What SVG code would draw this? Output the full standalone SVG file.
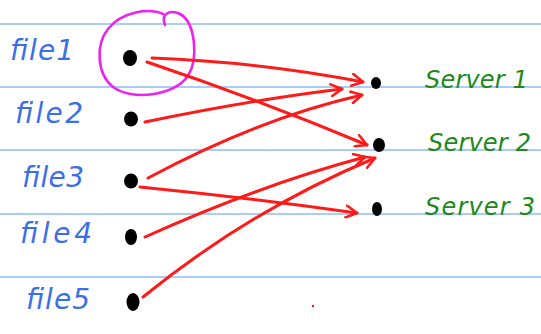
<svg xmlns="http://www.w3.org/2000/svg" width="541" height="334" viewBox="0 0 541 334">
<defs>
<style>
.rule{stroke:#a9cdf6;stroke-width:2}
.flabel{font-family:"DejaVu Sans",sans-serif;font-style:italic;font-size:28px;fill:#3b6fe6}
.slabel{font-family:"DejaVu Sans",sans-serif;font-style:italic;font-size:24px;fill:#1b8a1b}
.dot{fill:#000}
.edge{fill:none;stroke:#ff1a1a;stroke-width:3;stroke-linecap:round;marker-end:url(#ah)}
</style>
<marker id="ah" viewBox="0 0 14 14" refX="12" refY="7" markerWidth="14" markerHeight="14" markerUnits="userSpaceOnUse" orient="auto">
<path d="M1,1 L12,7 L1,13" fill="none" stroke="#ff1a1a" stroke-width="2.6" stroke-linecap="round" stroke-linejoin="round"/>
</marker>
</defs>
<rect width="541" height="334" fill="#fff"/>
<g id="rules">
<line class="rule" x1="0" y1="24" x2="541" y2="24"/>
<line class="rule" x1="0" y1="87" x2="541" y2="87"/>
<line class="rule" x1="0" y1="150" x2="541" y2="150"/>
<line class="rule" x1="0" y1="214" x2="541" y2="214"/>
<line class="rule" x1="0" y1="277" x2="541" y2="277"/>
</g>
<g id="highlight">
<path d="M165,25 C160,12 172,10 180,14 C195,22 199,58 188,76 C173,96 132,101 113,87 C96,73 96,44 108,29 C122,11 150,8 163,14" fill="none" stroke="#ee22ee" stroke-width="2.6" stroke-linecap="round"/>
</g>
<g id="connectors">
<path class="edge" d="M152,58 Q260,62 363,82"/>
<path class="edge" d="M147,62 Q260,100 367,145"/>
<path class="edge" d="M145,122 Q250,100 342,89"/>
<path class="edge" d="M148,178 Q260,118 362,95"/>
<path class="edge" d="M140,187 Q250,198 357,213"/>
<path class="edge" d="M145,237 Q260,185 365,157"/>
<path class="edge" d="M143,297 Q250,210 375,158"/>
<circle cx="313" cy="306" r="1.2" fill="#ff1a1a"/>
</g>
<g id="file1"><ellipse class="dot" cx="130" cy="58" rx="7" ry="8"/><text class="flabel" x="10" y="60" textLength="64" lengthAdjust="spacing">file1</text></g>
<g id="file2"><ellipse class="dot" cx="131" cy="119" rx="7" ry="7.5"/><text class="flabel" x="15" y="123" textLength="68" lengthAdjust="spacing">file2</text></g>
<g id="file3"><ellipse class="dot" cx="131" cy="181" rx="7" ry="7.5"/><text class="flabel" x="22" y="187" textLength="62" lengthAdjust="spacing">file3</text></g>
<g id="file4"><ellipse class="dot" cx="131" cy="237" rx="6" ry="8"/><text class="flabel" x="20" y="243" textLength="72" lengthAdjust="spacing">file4</text></g>
<g id="file5"><ellipse class="dot" cx="133" cy="302" rx="6.5" ry="9"/><text class="flabel" x="26" y="309" textLength="64" lengthAdjust="spacing">file5</text></g>
<g id="server1"><ellipse class="dot" cx="376" cy="83" rx="5" ry="6"/><text class="slabel" x="425" y="88" textLength="103" lengthAdjust="spacing">Server 1</text></g>
<g id="server2"><ellipse class="dot" cx="379" cy="145" rx="6" ry="7"/><text class="slabel" x="428" y="151" textLength="103" lengthAdjust="spacing">Server 2</text></g>
<g id="server3"><ellipse class="dot" cx="377" cy="209" rx="5" ry="7"/><text class="slabel" x="425" y="215" textLength="110" lengthAdjust="spacing">Server 3</text></g>
</svg>
